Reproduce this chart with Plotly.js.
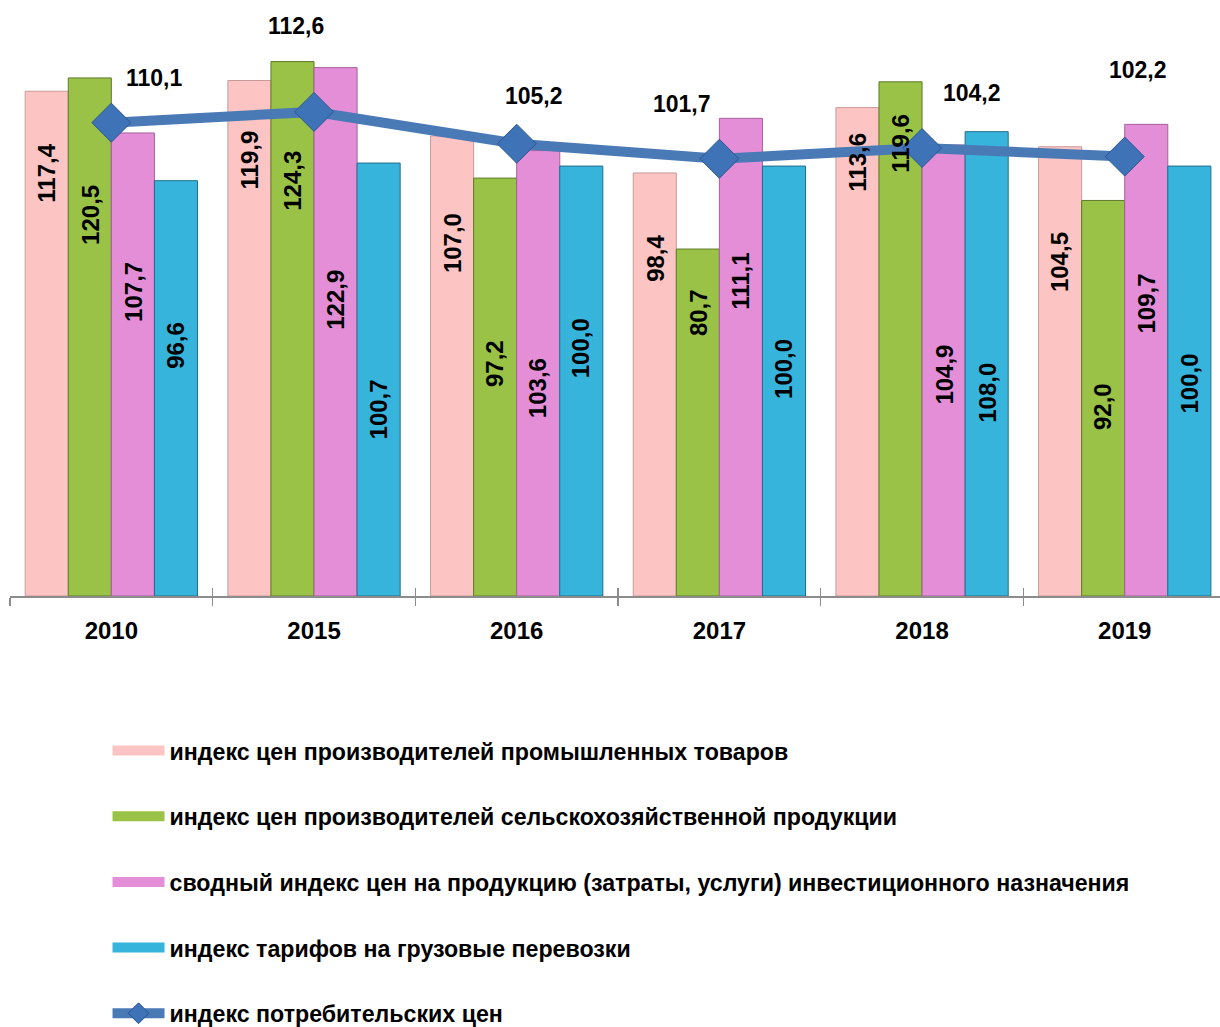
<!DOCTYPE html>
<html>
<head>
<meta charset="utf-8">
<script src="https://cdn.plot.ly/plotly-3.0.1.min.js"></script>
<style>html,body{margin:0;padding:0;background:#fff;}#chart{width:1220px;height:1027px;}</style>
</head>
<body>
<div id="chart"></div>
<script>
// ---- data ----
const years = ['2010', '2015', '2016', '2017', '2018', '2019'];
const industrial = [117.4, 119.9, 107.0, 98.4, 113.6, 104.5];
const agricultural = [120.5, 124.3, 97.2, 80.7, 119.6, 92.0];
const investment = [107.7, 122.9, 103.6, 111.1, 104.9, 109.7];
const freight = [96.6, 100.7, 100.0, 100.0, 108.0, 100.0];
const consumer = [110.1, 112.6, 105.2, 101.7, 104.2, 102.2];

const seriesNames = [
  'индекс цен производителей промышленных товаров',
  'индекс цен производителей сельскохозяйственной продукции',
  'сводный индекс цен на продукцию (затраты, услуги) инвестиционного назначения',
  'индекс тарифов на грузовые перевозки',
  'индекс потребительских цен'
];

// ---- label placement (style, axis units / pixels) ----
const barLabelY = [
  [98.4, 101.4, 82.1, 78.6, 100.9, 77.7],
  [88.6, 96.7, 54.0, 66.0, 105.3, 44.0],
  [70.7, 68.8, 48.4, 73.3, 51.4, 68.1],
  [58.4, 43.3, 57.7, 52.8, 47.2, 49.5]
];
const lineLabelDx = [43, -18, 17, -37, 50, 13];
const lineLabelDy = [45, 86, 48, 55, 55, 87];

const FONT = '"Liberation Sans", Arial, sans-serif';
const colors = ['#FCC4C3', '#9AC247', '#E48ED7', '#37B4DC'];
const edges = ['#C99A99', '#5F7A2A', '#A8609C', '#1F6F8A'];
const barSeries = [industrial, agricultural, investment, freight];
const fmt = v => v.toFixed(1).replace('.', ',');

const bargap = 0.15;
const barW = (1 - bargap) / 4;

const traces = barSeries.map((vals, j) => ({
  type: 'bar', name: seriesNames[j], x: years, y: vals,
  marker: {color: colors[j], line: {color: edges[j], width: 1}},
  showlegend: false, hoverinfo: 'y'
}));
traces.push({
  type: 'scatter', mode: 'lines+markers', name: seriesNames[4], x: years, y: consumer,
  line: {color: '#4A7AB6', width: 10},
  marker: {symbol: 'diamond', size: 30, color: '#3F73B8', line: {color: '#2B5590', width: 1}},
  legendgroup: 'g4', legendrank: 5, hoverinfo: 'y'
});
// legend keys for the bar series (wide bar-like keys as in the original)
barSeries.forEach((vals, j) => {
  traces.push({
    type: 'scatter', mode: 'lines', name: seriesNames[j], x: [null], y: [null],
    line: {color: colors[j], width: 14}, legendgroup: 'g' + j, legendrank: j + 1,
    hoverinfo: 'skip'
  });
});

const annotations = [];
barSeries.forEach((vals, j) => {
  vals.forEach((v, i) => {
    annotations.push({
      x: i + (j - 1.5) * barW, y: barLabelY[j][i], xref: 'x', yref: 'y',
      text: fmt(v), showarrow: false, textangle: -90,
      font: {family: FONT, size: 24, color: '#000', weight: 'bold'}
    });
  });
});
consumer.forEach((v, i) => {
  annotations.push({
    x: i, y: v, xref: 'x', yref: 'y', text: fmt(v), showarrow: false,
    xshift: lineLabelDx[i], yshift: lineLabelDy[i],
    font: {family: FONT, size: 23, color: '#000', weight: 'bold'}
  });
});

const layout = {
  width: 1220, height: 1027,
  margin: {l: 10, r: 0, t: 10, b: 431, autoexpand: false},
  paper_bgcolor: '#fff', plot_bgcolor: '#fff',
  barmode: 'group', bargap: bargap, bargroupgap: 0,
  font: {family: FONT, color: '#000'},
  xaxis: {
    type: 'category', range: [-0.5, 5.47],
    showline: true, linecolor: '#8C8C8C', linewidth: 1.5,
    ticks: 'outside', tickson: 'boundaries', ticklen: 8, tickcolor: '#8C8C8C', tickwidth: 1.5,
    showgrid: false, zeroline: false,
    tickfont: {family: FONT, size: 24, color: '#000', weight: 'bold'},
    ticklabelstandoff: 13
  },
  xaxis2: {
    type: 'category', range: [-0.5, 5.47], overlaying: 'x', matches: 'x',
    showline: false, ticks: 'inside', tickson: 'boundaries', ticklen: 8,
    tickcolor: '#8C8C8C', tickwidth: 1.5, showticklabels: false, showgrid: false
  },
  yaxis: {range: [0, 136.3], visible: false, showgrid: false, zeroline: false},
  showlegend: true,
  legend: {
    x: 0.0806, xanchor: 'left', y: -0.227, yanchor: 'top',
    orientation: 'v', traceorder: 'grouped', tracegroupgap: 32.5, itemwidth: 52,
    font: {family: FONT, size: 23.2, color: '#000', weight: 'bold'},
    bgcolor: 'rgba(0,0,0,0)'
  },
  annotations: annotations
};

traces.push({type: 'scatter', x: years, y: consumer, xaxis: 'x2', mode: 'none', showlegend: false, hoverinfo: 'skip'});

Plotly.newPlot('chart', traces, layout, {displayModeBar: false, staticPlot: true});
</script>
</body>
</html>
